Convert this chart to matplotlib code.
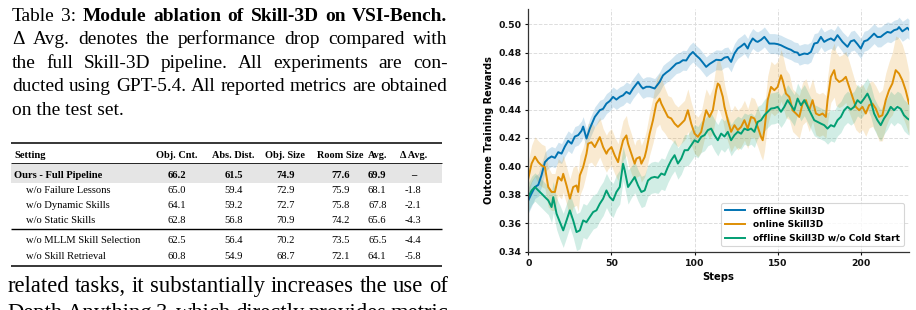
import matplotlib
matplotlib.use("Agg")
import matplotlib.pyplot as plt
import numpy as np

# ------------------------------------------------------------------ data
caption_lines = [
    [("Table", "normal"), ("3:", "normal"), ("Module", "bold"), ("ablation", "bold"), ("of", "bold"),
     ("Skill-3D", "bold"), ("on", "bold"), ("VSI-Bench.", "bold")],
    "\u0394 Avg. denotes the performance drop compared with",
    "the full Skill-3D pipeline. All experiments are con-",
    "ducted using GPT-5.4. All reported metrics are obtained",
    "on the test set.",
]
body_lines = [
    "related tasks, it substantially increases the use of",
    "Depth Anything 3, which directly provides metric",
]

table_header = ["Setting", "Obj. Cnt.", "Abs. Dist.", "Obj. Size", "Room Size", "Avg.", "\u0394 Avg."]
table_settings = ["Ours - Full Pipeline", "w/o Failure Lessons", "w/o Dynamic Skills",
                  "w/o Static Skills", "w/o MLLM Skill Selection", "w/o Skill Retrieval"]
obj_cnt = [66.2, 65.0, 64.1, 62.8, 62.5, 60.8]
abs_dist = [61.5, 59.4, 59.2, 56.8, 56.4, 54.9]
obj_size = [74.9, 72.9, 72.7, 70.9, 70.2, 68.7]
room_size = [77.6, 75.9, 75.8, 74.2, 73.5, 72.1]
avg_score = [69.9, 68.1, 67.8, 65.6, 65.5, 64.1]
delta_avg = ["\u2013", "-1.8", "-2.1", "-4.3", "-4.4", "-5.8"]

series_labels = ["offline Skill3D", "online Skill3D", "offline Skill3D w/o Cold Start"]

offline_steps = [0, 2, 4, 6, 8, 10, 12, 14, 16, 18, 20, 22, 24, 26, 28, 30, 32, 33, 35, 37, 40, 43, 45,
                 47, 49, 51, 53, 55, 57, 59, 61, 63, 66, 68, 69, 71, 73, 76, 79, 81, 83, 85, 87, 89, 91,
                 93, 95, 97, 99, 101, 103, 105, 107, 109, 111, 113, 116, 118, 120, 122, 124, 126, 128,
                 130, 132, 133, 135, 137, 138, 140, 142, 144, 145, 148, 150, 152, 154, 156, 158, 160,
                 162, 163, 166, 168, 170, 172, 174, 176, 178, 180, 182, 184, 186, 189, 192, 194, 196,
                 198, 200, 202, 204, 206, 208, 210, 212, 214, 216, 218, 220, 222, 223, 225, 226, 228, 229]
offline_vals = [0.376, 0.381, 0.3855, 0.387, 0.394, 0.403, 0.4055, 0.407, 0.406, 0.410, 0.409, 0.414,
                0.418, 0.416, 0.421, 0.422, 0.425, 0.428, 0.4196, 0.4266, 0.4348, 0.4395, 0.4405,
                0.4442, 0.446, 0.4489, 0.447, 0.4489, 0.450, 0.4524, 0.451, 0.4548, 0.4594, 0.456,
                0.4548, 0.456, 0.456, 0.4548, 0.4594, 0.464, 0.466, 0.4677, 0.470, 0.4723, 0.473,
                0.4747, 0.4745, 0.4782, 0.4805, 0.478, 0.4759, 0.473, 0.470, 0.472, 0.4735, 0.475,
                0.4747, 0.4765, 0.477, 0.4735, 0.4794, 0.4829, 0.4845, 0.4864, 0.4829, 0.486, 0.490,
                0.488, 0.4876, 0.489, 0.4911, 0.488, 0.4864, 0.4864, 0.486, 0.4852, 0.484, 0.4829,
                0.482, 0.4805, 0.480, 0.4782, 0.4794, 0.479, 0.4805, 0.4864, 0.487, 0.4911, 0.4876,
                0.489, 0.490, 0.4885, 0.4923, 0.4876, 0.4841, 0.488, 0.4888, 0.486, 0.4829, 0.488,
                0.4888, 0.491, 0.4934, 0.491, 0.4911, 0.493, 0.4946, 0.494, 0.4958, 0.4965, 0.498,
                0.495, 0.4958, 0.4975, 0.4962]
offline_err = [0.009, 0.009, 0.008, 0.008, 0.008, 0.007, 0.007, 0.007, 0.007, 0.007, 0.007, 0.007,
               0.007, 0.007, 0.007, 0.007, 0.007, 0.007, 0.007, 0.007, 0.007, 0.007, 0.007, 0.007,
               0.007, 0.007, 0.007, 0.007, 0.007, 0.007, 0.007, 0.007, 0.007, 0.007, 0.007, 0.007,
               0.007, 0.007, 0.007, 0.007, 0.007, 0.007, 0.007, 0.007, 0.007, 0.007, 0.007, 0.007,
               0.007, 0.007, 0.007, 0.007, 0.007, 0.007, 0.007, 0.007, 0.007, 0.007, 0.007, 0.007,
               0.007, 0.007, 0.007, 0.007, 0.007, 0.007, 0.007, 0.007, 0.007, 0.007, 0.007, 0.007,
               0.007, 0.007, 0.007, 0.007, 0.007, 0.007, 0.007, 0.007, 0.007, 0.007, 0.007, 0.007,
               0.007, 0.007, 0.007, 0.007, 0.007, 0.007, 0.007, 0.007, 0.007, 0.007, 0.007, 0.007,
               0.007, 0.007, 0.007, 0.007, 0.007, 0.007, 0.007, 0.007, 0.007, 0.007, 0.007, 0.007,
               0.007, 0.007, 0.007, 0.007, 0.007, 0.007, 0.007]

online_steps = [0, 2, 4, 6, 8, 10, 12, 14, 16, 18, 20, 21, 23, 25, 27, 29, 30, 31, 33, 35, 36, 38, 40,
                42, 43, 45, 47, 48, 50, 52, 54, 55, 57, 59, 60, 62, 64, 65, 67, 68, 70, 71, 73, 75, 77,
                79, 80, 82, 84, 86, 88, 90, 92, 94, 96, 98, 100, 102, 104, 106, 107, 109, 111, 113,
                114, 115, 117, 118, 120, 122, 124, 126, 128, 130, 132, 134, 136, 138, 140, 141, 142,
                144, 146, 148, 150, 152, 153, 155, 157, 159, 161, 163, 165, 167, 169, 171, 173, 175,
                177, 179, 180, 182, 184, 185, 187, 189, 191, 193, 195, 197, 199, 201, 203, 205, 207,
                209, 211, 213, 215, 217, 219, 221, 223, 225, 227, 229]
online_vals = [0.3915, 0.402, 0.4068, 0.403, 0.4007, 0.3995, 0.3855, 0.382, 0.382, 0.3925, 0.390,
               0.3948, 0.3866, 0.3773, 0.3855, 0.3866, 0.382, 0.3937, 0.3995, 0.4089, 0.416, 0.417,
               0.4136, 0.4183, 0.4206, 0.4136, 0.4089, 0.4113, 0.4136, 0.4077, 0.403, 0.4089,
               0.4183, 0.4218, 0.416, 0.4089, 0.4019, 0.4054, 0.4066, 0.4019, 0.4066, 0.4113,
               0.4231, 0.4325, 0.4442, 0.4477, 0.4442, 0.4395, 0.4348, 0.4337, 0.4301, 0.4278,
               0.4301, 0.4325, 0.4395, 0.4301, 0.4231, 0.4208, 0.4243, 0.4348, 0.4395, 0.4348,
               0.4395, 0.4536, 0.4583, 0.4571, 0.4489, 0.4419, 0.4325, 0.4243, 0.429, 0.4255,
               0.4278, 0.4325, 0.4266, 0.4348, 0.4337, 0.4278, 0.4208, 0.4184, 0.4255, 0.4466,
               0.4559, 0.4536, 0.4559, 0.4641, 0.4606, 0.4512, 0.4489, 0.4395, 0.4372, 0.4348,
               0.4442, 0.4466, 0.4395, 0.4466, 0.4372, 0.436, 0.4372, 0.4348, 0.4466, 0.463,
               0.4677, 0.4618, 0.4594, 0.4606, 0.463, 0.4559, 0.4489, 0.4419, 0.4395, 0.4419,
               0.4372, 0.443, 0.4442, 0.4407, 0.4348, 0.436, 0.4466, 0.4536, 0.4583, 0.4677,
               0.4653, 0.4606, 0.4536, 0.4442]
online_err = [0.012, 0.013, 0.014, 0.015, 0.015, 0.015, 0.014, 0.013, 0.013, 0.013, 0.013, 0.013,
              0.013, 0.014, 0.014, 0.014, 0.014, 0.014, 0.014, 0.014, 0.014, 0.014, 0.014, 0.014,
              0.014, 0.013, 0.013, 0.013, 0.013, 0.013, 0.013, 0.013, 0.014, 0.014, 0.014, 0.014,
              0.013, 0.013, 0.013, 0.013, 0.014, 0.014, 0.015, 0.016, 0.017, 0.018, 0.018, 0.016,
              0.015, 0.015, 0.014, 0.014, 0.014, 0.014, 0.015, 0.015, 0.014, 0.014, 0.014, 0.015,
              0.015, 0.015, 0.016, 0.018, 0.018, 0.018, 0.017, 0.016, 0.015, 0.014, 0.014, 0.014,
              0.014, 0.014, 0.014, 0.014, 0.014, 0.014, 0.014, 0.014, 0.015, 0.017, 0.018, 0.018,
              0.018, 0.018, 0.018, 0.017, 0.016, 0.015, 0.015, 0.015, 0.015, 0.015, 0.015, 0.015,
              0.015, 0.015, 0.015, 0.015, 0.016, 0.018, 0.019, 0.019, 0.018, 0.018, 0.018, 0.018,
              0.017, 0.016, 0.016, 0.016, 0.016, 0.016, 0.016, 0.016, 0.017, 0.018, 0.019, 0.020,
              0.022, 0.024, 0.025, 0.025, 0.024, 0.022]

cold_steps = [0, 2, 4, 6, 8, 10, 12, 14, 15, 17, 19, 21, 23, 25, 27, 29, 31, 33, 35, 37, 39, 41, 43,
              45, 47, 49, 51, 53, 55, 57, 58, 60, 62, 64, 66, 68, 70, 72, 74, 76, 78, 80, 82, 84, 86,
              88, 90, 92, 94, 96, 98, 100, 102, 104, 106, 108, 110, 112, 114, 116, 118, 120, 122,
              124, 126, 128, 130, 132, 134, 136, 138, 140, 142, 144, 146, 148, 150, 152, 154, 156,
              158, 160, 162, 164, 166, 168, 170, 172, 174, 176, 178, 180, 182, 184, 186, 188, 190,
              192, 194, 196, 198, 200, 202, 204, 206, 208, 210, 212, 214, 216, 218, 220, 222, 224,
              226, 228, 229]
cold_vals = [0.3784, 0.3831, 0.3855, 0.3831, 0.3808, 0.3784, 0.3761, 0.3714, 0.3784, 0.3667, 0.3608,
             0.355, 0.362, 0.3691, 0.362, 0.3538, 0.355, 0.362, 0.3608, 0.3644, 0.3679, 0.3691,
             0.3737, 0.3773, 0.3831, 0.3784, 0.3761, 0.382, 0.3855, 0.4019, 0.3972, 0.3855, 0.389,
             0.3925, 0.3866, 0.382, 0.3831, 0.3901, 0.392, 0.3926, 0.392, 0.395, 0.394, 0.3997,
             0.4044, 0.4079, 0.402, 0.4055, 0.4114, 0.4114, 0.4149, 0.4184, 0.417, 0.4208, 0.422,
             0.4255, 0.4266, 0.422, 0.4184, 0.4231, 0.421, 0.4243, 0.4184, 0.422, 0.4243, 0.423,
             0.4266, 0.4255, 0.4266, 0.4243, 0.4313, 0.4325, 0.436, 0.4384, 0.4407, 0.441, 0.4419,
             0.4384, 0.4419, 0.4466, 0.443, 0.4395, 0.4477, 0.443, 0.4466, 0.442, 0.4372, 0.4325,
             0.4313, 0.4301, 0.429, 0.4266, 0.429, 0.428, 0.4325, 0.4348, 0.4395, 0.4419, 0.440,
             0.4419, 0.4466, 0.4445, 0.4477, 0.4512, 0.446, 0.4372, 0.4325, 0.429, 0.4337, 0.4372,
             0.4419, 0.4395, 0.4419, 0.4405, 0.436, 0.4337, 0.433]
cold_err = [0.010, 0.010, 0.010, 0.010, 0.010, 0.010, 0.010, 0.011, 0.011, 0.011, 0.012, 0.012,
            0.012, 0.012, 0.012, 0.013, 0.013, 0.012, 0.012, 0.012, 0.012, 0.012, 0.012, 0.012,
            0.012, 0.012, 0.012, 0.012, 0.012, 0.012, 0.012, 0.012, 0.011, 0.011, 0.011, 0.011,
            0.011, 0.011, 0.011, 0.011, 0.011, 0.011, 0.011, 0.011, 0.011, 0.011, 0.011, 0.011,
            0.011, 0.011, 0.011, 0.011, 0.011, 0.011, 0.011, 0.011, 0.011, 0.011, 0.011, 0.011,
            0.011, 0.011, 0.011, 0.011, 0.011, 0.011, 0.011, 0.011, 0.011, 0.011, 0.011, 0.011,
            0.011, 0.011, 0.011, 0.011, 0.011, 0.011, 0.011, 0.011, 0.011, 0.011, 0.011, 0.011,
            0.011, 0.011, 0.011, 0.011, 0.011, 0.011, 0.011, 0.011, 0.011, 0.011, 0.011, 0.011,
            0.011, 0.011, 0.011, 0.011, 0.011, 0.011, 0.011, 0.011, 0.011, 0.011, 0.011, 0.011,
            0.011, 0.011, 0.011, 0.011, 0.011, 0.011, 0.011, 0.011, 0.011]

x_ticks = [0, 50, 100, 150, 200]
y_ticks = [0.34, 0.36, 0.38, 0.40, 0.42, 0.44, 0.46, 0.48, 0.50]

# ------------------------------------------------------------------ figure
W, H = 916, 310
fig = plt.figure(figsize=(W / 100, H / 100), dpi=100)
SERIF = "Liberation Serif"

page = fig.add_axes([0, 0, 1, 1])
page.set_xlim(0, W)
page.set_ylim(H, 0)
page.axis("off")
renderer = fig.canvas.get_renderer()


def word_list(line):
    if isinstance(line, str):
        return [(w, "normal") for w in line.split()]
    return line


def natural_width(text, size, weight="normal"):
    t = page.text(0, 0, text, fontsize=size, family=SERIF, fontweight=weight)
    w = t.get_window_extent(renderer).width
    t.remove()
    return w


def draw_line(line, x0, x1, y, size, justify=True):
    words = word_list(line)
    if not justify:
        page.text(x0, y, " ".join(w for w, _ in words), fontsize=size, family=SERIF,
                  va="baseline", ha="left")
        return
    arts, widths = [], []
    for w, wt in words:
        t = page.text(x0, y, w, fontsize=size, family=SERIF, fontweight=wt,
                      va="baseline", ha="left")
        widths.append(t.get_window_extent(renderer).width)
        arts.append(t)
    gap = (x1 - x0 - sum(widths)) / max(len(words) - 1, 1)
    x = x0
    for t, wd in zip(arts, widths):
        t.set_x(x)
        x += wd + gap


# caption: size chosen so that the 4th line fits at natural spacing
cap_x0, cap_x1 = 12, 447.5
cap_size = 14.0 * (cap_x1 - cap_x0 + 1.5) / natural_width(caption_lines[3], 14.0)
cap_base = [20.8, 44.2, 67.8, 91.4, 115.0]
for i, line in enumerate(caption_lines):
    draw_line(line, cap_x0, cap_x1, cap_base[i], cap_size, justify=(i < len(caption_lines) - 1))

body_x0, body_x1 = 7.5, 448
body_size = 15.6 * (body_x1 - body_x0 - 3) / natural_width(body_lines[0], 15.6)
body_base = [291.8, 319.0]
for i, line in enumerate(body_lines):
    draw_line(line, body_x0, body_x1, body_base[i], body_size, justify=True)

# ---- table
tbl_x0, tbl_x1 = 11, 442
col_x = [176.7, 233.6, 285.3, 340.7, 377.3, 413.3]
tsize = 7.6
page.add_patch(plt.Rectangle((tbl_x0, 163.8), tbl_x1 - tbl_x0, 19.0, color="#e5e5e5", lw=0, zorder=0))
for yy, lw in [(143.3, 1.1), (163.3, 0.6), (229.3, 1.0), (265.7, 1.1)]:
    page.plot([tbl_x0, tbl_x1], [yy, yy], color="black", lw=lw, solid_capstyle="butt")

header_base = 158.4
page.text(14, header_base, table_header[0], fontsize=tsize, family=SERIF, fontweight="bold",
          va="baseline", ha="left")
for cx, h in zip(col_x, table_header[1:]):
    page.text(cx, header_base, h, fontsize=tsize - 0.2, family=SERIF, fontweight="bold",
              va="baseline", ha="center")

row_base = [177.7, 193.4, 208.4, 223.4, 243.4, 259.1]
for r in range(len(table_settings)):
    wt = "bold" if r == 0 else "normal"
    xs = 14 if r == 0 else 26
    page.text(xs, row_base[r], table_settings[r], fontsize=tsize, family=SERIF, fontweight=wt,
              va="baseline", ha="left")
    vals = ["%.1f" % obj_cnt[r], "%.1f" % abs_dist[r], "%.1f" % obj_size[r],
            "%.1f" % room_size[r], "%.1f" % avg_score[r], delta_avg[r]]
    for cx, v in zip(col_x, vals):
        page.text(cx, row_base[r], v, fontsize=tsize, family=SERIF, fontweight=wt,
                  va="baseline", ha="center")

# ---- chart
ax = fig.add_axes([528.3 / W, (H - 251.7) / H, 380.7 / W, 242.4 / H])
colors = ["#0173b2", "#de8f05", "#029e73"]
data = [(offline_steps, offline_vals, offline_err),
        (online_steps, online_vals, online_err),
        (cold_steps, cold_vals, cold_err)]
for (st, v, e), c, lab in zip(data, colors, series_labels):
    st = np.asarray(st)
    v = np.asarray(v)
    e = np.asarray(e)
    ax.fill_between(st, v - e, v + e, color=c, alpha=0.18, lw=0)
    ax.plot(st, v, color=c, lw=1.4, label=lab)

ax.set_xlim(0, 229)
ax.set_ylim(0.34, 0.5105)
ax.set_xticks(x_ticks)
ax.set_yticks(y_ticks)
ax.set_yticklabels(["%.2f" % t for t in y_ticks])
ax.grid(True, ls="--", color="#dddddd", lw=0.7)
ax.set_axisbelow(True)
for s in ["top", "right"]:
    ax.spines[s].set_visible(False)
for s in ["left", "bottom"]:
    ax.spines[s].set_color("#333333")
    ax.spines[s].set_linewidth(0.9)
ax.tick_params(labelsize=6.7, length=2.5, width=0.8, pad=2.5, colors="#111111")
for lab in ax.get_xticklabels() + ax.get_yticklabels():
    lab.set_fontweight("bold")
ax.set_xlabel("Steps", fontsize=7.2, fontweight="bold", labelpad=3)
ax.set_ylabel("Outcome Training Rewards", fontsize=7.0, fontweight="bold", labelpad=3)
leg = ax.legend(loc="lower right", prop={"size": 6.5, "weight": "bold"}, frameon=True,
                borderpad=0.4, handlelength=2.2, handletextpad=0.9, labelspacing=0.5,
                fancybox=True, edgecolor="#cccccc", borderaxespad=0.6)
leg.get_frame().set_linewidth(0.8)

fig.savefig("out.png", dpi=100)
